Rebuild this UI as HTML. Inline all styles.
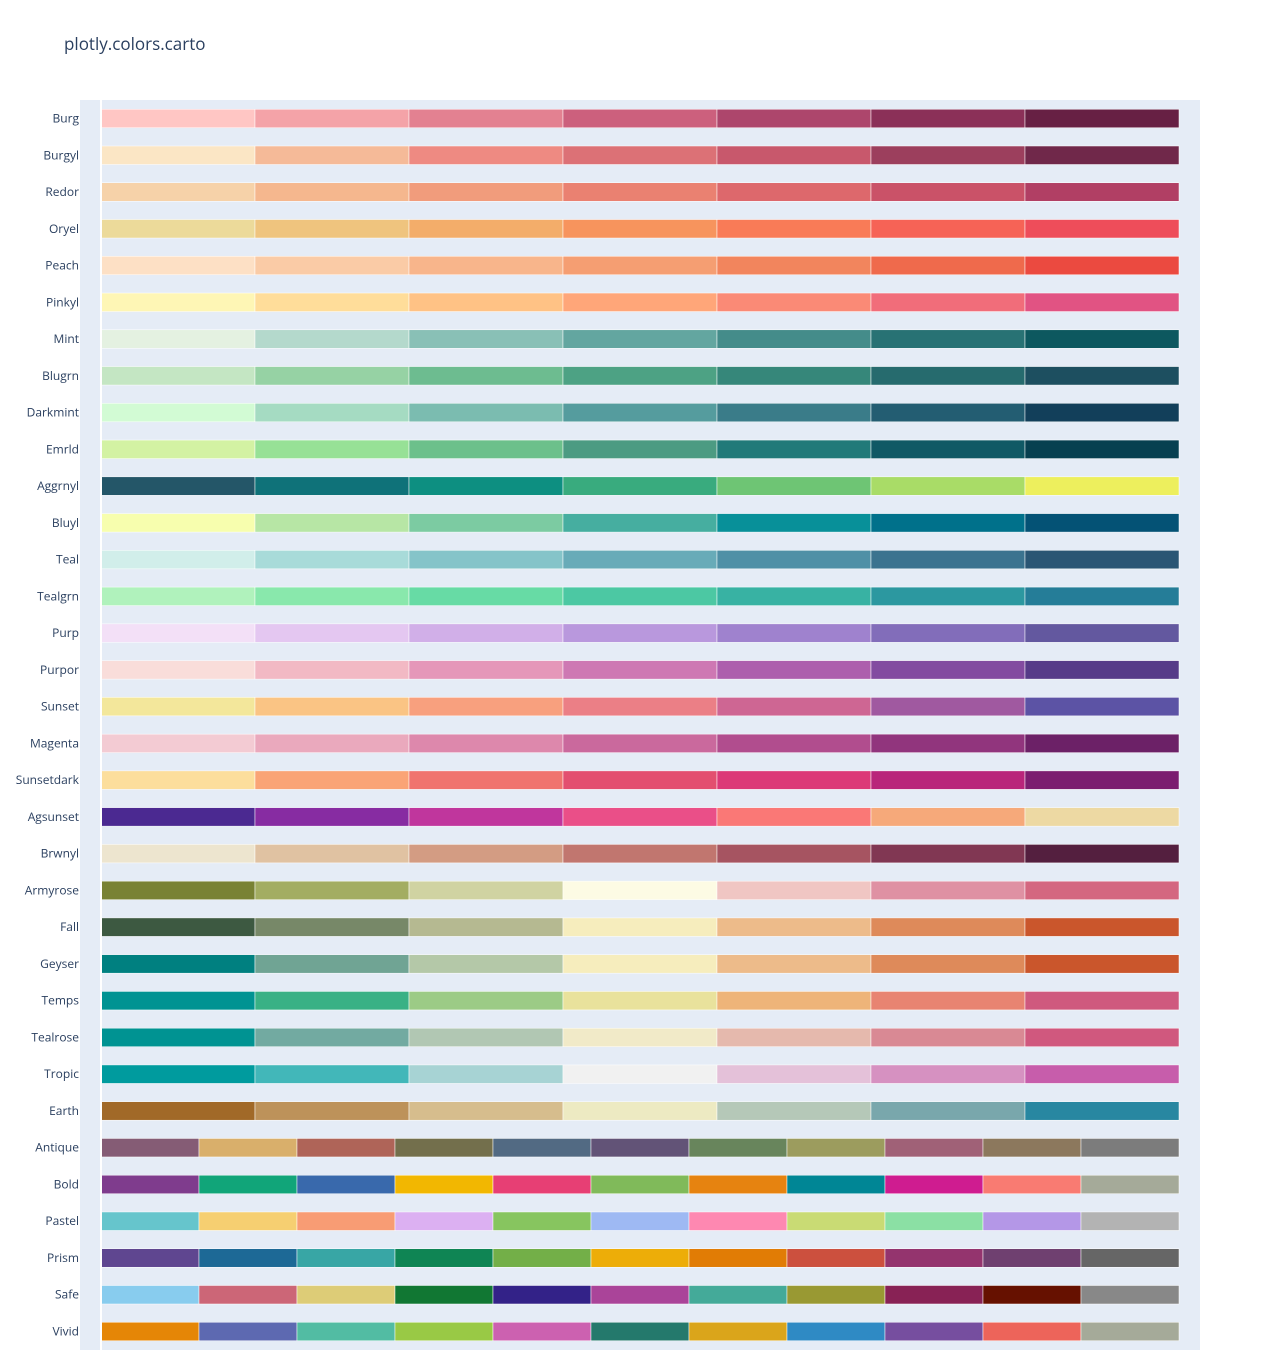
<!DOCTYPE html>
<html><head><meta charset="utf-8">
<style>
html,body{margin:0;padding:0;background:#fff;}
svg{display:block;font-family:"Open Sans","Liberation Sans",Arial,sans-serif;}
</style></head>
<body>
<svg id="chart" width="1281" height="1360">
<rect x="0" y="0" width="1281" height="1360" fill="#fff"/>
<text x="64" y="50" font-size="17" fill="#2a3f5f">plotly.colors.carto</text>
<rect x="80" y="100" width="1120" height="1250" fill="#e5ecf6"/>
<g id="bars"></g>
<line x1="101" y1="100" x2="101" y2="1350" stroke="#fff" stroke-width="2"/>
</svg>
<script>
const scaleNames = ["Burg","Burgyl","Redor","Oryel","Peach","Pinkyl","Mint","Blugrn","Darkmint","Emrld","Aggrnyl","Bluyl","Teal","Tealgrn","Purp","Purpor","Sunset","Magenta","Sunsetdark","Agsunset","Brwnyl","Armyrose","Fall","Geyser","Temps","Tealrose","Tropic","Earth","Antique","Bold","Pastel","Prism","Safe","Vivid"];
const scaleColors = [
["rgb(255,198,196)","rgb(244,163,168)","rgb(227,129,145)","rgb(204,96,125)","rgb(173,70,108)","rgb(139,48,88)","rgb(103,32,68)"],
["rgb(251,230,197)","rgb(245,186,152)","rgb(238,138,130)","rgb(220,113,118)","rgb(200,88,108)","rgb(156,63,93)","rgb(112,40,74)"],
["rgb(246,210,169)","rgb(245,183,142)","rgb(241,156,124)","rgb(234,129,113)","rgb(221,104,108)","rgb(202,82,104)","rgb(177,63,100)"],
["rgb(236,218,154)","rgb(239,196,126)","rgb(243,173,106)","rgb(247,148,93)","rgb(249,123,87)","rgb(246,99,86)","rgb(238,77,90)"],
["rgb(253,224,197)","rgb(250,203,166)","rgb(248,181,139)","rgb(245,158,114)","rgb(242,133,93)","rgb(239,106,76)","rgb(235,74,64)"],
["rgb(254,246,181)","rgb(255,221,154)","rgb(255,194,133)","rgb(255,166,121)","rgb(250,138,118)","rgb(241,109,122)","rgb(225,83,131)"],
["rgb(228,241,225)","rgb(180,217,204)","rgb(137,192,182)","rgb(99,166,160)","rgb(68,140,138)","rgb(40,114,116)","rgb(13,88,95)"],
["rgb(196,230,195)","rgb(150,210,164)","rgb(109,188,144)","rgb(77,162,132)","rgb(54,135,122)","rgb(38,107,110)","rgb(29,79,96)"],
["rgb(210,251,212)","rgb(165,219,194)","rgb(123,188,176)","rgb(85,156,158)","rgb(58,124,137)","rgb(35,93,114)","rgb(18,63,90)"],
["rgb(211,242,163)","rgb(151,225,150)","rgb(108,192,139)","rgb(76,155,130)","rgb(33,122,121)","rgb(16,89,101)","rgb(7,64,80)"],
["rgb(36,86,104)","rgb(15,114,121)","rgb(13,143,129)","rgb(57,171,126)","rgb(110,197,116)","rgb(169,220,103)","rgb(237,239,93)"],
["rgb(247,254,174)","rgb(183,230,165)","rgb(124,203,162)","rgb(70,174,160)","rgb(8,144,153)","rgb(0,113,139)","rgb(4,82,117)"],
["rgb(209,238,234)","rgb(168,219,217)","rgb(133,196,201)","rgb(104,171,184)","rgb(79,144,166)","rgb(59,115,143)","rgb(42,86,116)"],
["rgb(176,242,188)","rgb(137,232,172)","rgb(103,219,165)","rgb(76,200,163)","rgb(56,178,163)","rgb(44,152,160)","rgb(37,125,152)"],
["rgb(243,224,247)","rgb(228,199,241)","rgb(209,175,232)","rgb(185,152,221)","rgb(159,130,206)","rgb(130,109,186)","rgb(99,88,159)"],
["rgb(249,221,218)","rgb(242,185,196)","rgb(229,151,185)","rgb(206,120,179)","rgb(173,95,173)","rgb(131,75,160)","rgb(87,59,136)"],
["rgb(243,231,155)","rgb(250,196,132)","rgb(248,160,126)","rgb(235,127,134)","rgb(206,102,147)","rgb(160,89,160)","rgb(92,83,165)"],
["rgb(243,203,211)","rgb(234,169,189)","rgb(221,136,172)","rgb(202,105,157)","rgb(177,77,142)","rgb(145,53,125)","rgb(108,33,103)"],
["rgb(252,222,156)","rgb(250,164,118)","rgb(240,116,110)","rgb(227,79,111)","rgb(220,57,119)","rgb(185,37,122)","rgb(124,29,111)"],
["rgb(75,41,145)","rgb(135,44,162)","rgb(192,54,157)","rgb(234,79,136)","rgb(250,120,118)","rgb(246,169,122)","rgb(237,217,163)"],
["rgb(237,229,207)","rgb(224,194,162)","rgb(211,156,131)","rgb(193,118,111)","rgb(166,84,97)","rgb(129,55,83)","rgb(84,31,63)"],
["rgb(121,130,52)","rgb(163,173,98)","rgb(208,211,162)","rgb(253,251,228)","rgb(240,198,195)","rgb(223,145,163)","rgb(212,103,128)"],
["rgb(61,89,65)","rgb(119,136,104)","rgb(181,185,145)","rgb(246,237,189)","rgb(237,187,138)","rgb(222,138,90)","rgb(202,86,44)"],
["rgb(0,128,128)","rgb(112,164,148)","rgb(180,200,168)","rgb(246,237,189)","rgb(237,187,138)","rgb(222,138,90)","rgb(202,86,44)"],
["rgb(0,147,146)","rgb(57,177,133)","rgb(156,203,134)","rgb(233,226,156)","rgb(238,180,121)","rgb(232,132,113)","rgb(207,89,126)"],
["rgb(0,147,146)","rgb(114,170,161)","rgb(177,199,179)","rgb(241,234,200)","rgb(229,185,173)","rgb(217,137,148)","rgb(208,88,126)"],
["rgb(0,155,158)","rgb(66,183,185)","rgb(167,211,212)","rgb(241,241,241)","rgb(228,193,217)","rgb(214,145,193)","rgb(199,93,171)"],
["rgb(161,105,40)","rgb(189,146,90)","rgb(214,189,141)","rgb(237,234,194)","rgb(181,200,184)","rgb(121,167,172)","rgb(40,135,161)"],
["rgb(133,92,117)","rgb(217,175,107)","rgb(175,100,88)","rgb(115,111,76)","rgb(82,106,131)","rgb(98,83,119)","rgb(104,133,92)","rgb(156,156,94)","rgb(160,97,119)","rgb(140,120,93)","rgb(124,124,124)"],
["rgb(127,60,141)","rgb(17,165,121)","rgb(57,105,172)","rgb(242,183,1)","rgb(231,63,116)","rgb(128,186,90)","rgb(230,131,16)","rgb(0,134,149)","rgb(207,28,144)","rgb(249,123,114)","rgb(165,170,153)"],
["rgb(102,197,204)","rgb(246,207,113)","rgb(248,156,116)","rgb(220,176,242)","rgb(135,197,95)","rgb(158,185,243)","rgb(254,136,177)","rgb(201,219,116)","rgb(139,224,164)","rgb(180,151,231)","rgb(179,179,179)"],
["rgb(95,70,144)","rgb(29,105,150)","rgb(56,166,165)","rgb(15,133,84)","rgb(115,175,72)","rgb(237,173,8)","rgb(225,124,5)","rgb(204,80,62)","rgb(148,52,110)","rgb(111,64,112)","rgb(102,102,102)"],
["rgb(136,204,238)","rgb(204,102,119)","rgb(221,204,119)","rgb(17,119,51)","rgb(51,34,136)","rgb(170,68,153)","rgb(68,170,153)","rgb(153,153,51)","rgb(136,34,85)","rgb(102,17,0)","rgb(136,136,136)"],
["rgb(229,134,6)","rgb(93,105,177)","rgb(82,188,163)","rgb(153,201,69)","rgb(204,97,176)","rgb(36,121,108)","rgb(218,165,27)","rgb(47,138,196)","rgb(118,78,159)","rgb(237,100,90)","rgb(165,170,153)"]
];

const NS = "http://www.w3.org/2000/svg";
const g = document.getElementById("bars");
const x0 = 101, x1 = 1179;
const xScale = v => x0 + v * (x1 - x0);
const yTop = 118.5, yBot = 1331.5;
const yScale = i => yTop + i * (yBot - yTop) / (scaleNames.length - 1);
const barH = 18.5;

scaleNames.forEach((name, i) => {
  const cy = yScale(i);
  const lbl = document.createElementNS(NS, "text");
  lbl.setAttribute("x", 79);
  lbl.setAttribute("y", cy + 4);
  lbl.setAttribute("text-anchor", "end");
  lbl.setAttribute("font-size", "12");
  lbl.setAttribute("fill", "#2a3f5f");
  lbl.textContent = name;
  
  
  g.appendChild(lbl);
  const cols = scaleColors[i];
  const n = cols.length;
  cols.forEach((c, j) => {
    const r = document.createElementNS(NS, "rect");
    const xa = xScale(j / n), xb = xScale((j + 1) / n);
    r.setAttribute("x", xa);
    r.setAttribute("y", cy - barH / 2);
    r.setAttribute("width", xb - xa);
    r.setAttribute("height", barH);
    r.setAttribute("fill", c);
    r.setAttribute("stroke", "#fff");
    r.setAttribute("stroke-width", "0.5");
    
    
    g.appendChild(r);
  });
});
</script>
</body></html>
